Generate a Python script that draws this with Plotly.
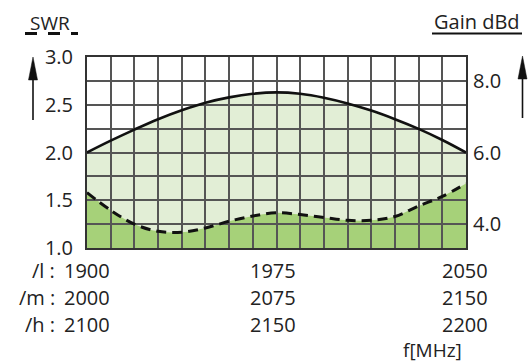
import plotly.graph_objects as go

# Frequency grid for the /l band (MHz); the /m and /h bands share the same positions
freq_l = [1900, 1909.375, 1918.75, 1928.125, 1937.5, 1946.875, 1956.25, 1965.625,
          1975, 1984.375, 1993.75, 2003.125, 2012.5, 2021.875, 2031.25, 2040.625, 2050]

# Antenna gain (dBd) across the band
gain_dbd = [6.0, 6.33, 6.64, 6.93, 7.18, 7.39, 7.54, 7.64, 7.68,
            7.64, 7.53, 7.37, 7.17, 6.93, 6.66, 6.35, 6.0]

# Standing wave ratio across the band
swr = [1.58, 1.395, 1.25, 1.175, 1.165, 1.21, 1.28, 1.335, 1.37,
       1.35, 1.32, 1.29, 1.29, 1.33, 1.44, 1.54, 1.675]

# Axis ticks
swr_ticks = [1.0, 1.25, 1.5, 1.75, 2.0, 2.25, 2.5, 2.75, 3.0]
swr_ticktext = ["1.0", "", "1.5", "", "2.0", "", "2.5", "", "3.0"]
gain_ticks = [4.0, 6.0, 8.0]
gain_ticktext = ["4.0", "6.0", "8.0"]

# Frequency labels for the three band variants
band_names = ["/l :", "/m :", "/h :"]
band_label_pos = [1900, 1975, 2050]
band_labels = [["1900", "1975", "2050"],
               ["2000", "2075", "2150"],
               ["2100", "2150", "2200"]]

SWR_RANGE = [1.0, 3.0]
GAIN_RANGE = [10 / 3, 26 / 3]
X_RANGE = [1900, 2050]

W, H = 528, 363
ML, MR, MT, MB = 87, 62, 57, 115
PW, PH = W - ML - MR, H - MT - MB


def px(x):
    return (x - ML) / PW


def py(y):
    return (H - MB - y) / PH


FONT = "Open Sans"
TXT = "#222222"
LIGHT = "#e2eed6"
DARK = "#a6d179"
GRID = "#555555"

fig = go.Figure()

# Filled areas (lower layer)
fig.add_trace(go.Scatter(x=freq_l, y=gain_dbd, xaxis="x", yaxis="y",
                         mode="lines", line=dict(width=0, shape="spline"),
                         fill="tozeroy", fillcolor=LIGHT, hoverinfo="skip",
                         showlegend=False))
fig.add_trace(go.Scatter(x=freq_l, y=swr, xaxis="x", yaxis="y2",
                         mode="lines", line=dict(width=0, shape="spline"),
                         fill="tozeroy", fillcolor=DARK, hoverinfo="skip",
                         showlegend=False))

# Curves drawn on the gridded layer above the fills
fig.add_trace(go.Scatter(x=freq_l, y=gain_dbd, xaxis="x2", yaxis="y4",
                         mode="lines", line=dict(color="#111111", width=2.6, shape="spline"),
                         name="Gain dBd", showlegend=False))
fig.add_trace(go.Scatter(x=freq_l, y=swr, xaxis="x2", yaxis="y3",
                         mode="lines", line=dict(color="#111111", width=3, shape="spline",
                                                 dash="10px,6px"),
                         name="SWR", showlegend=False))

hidden = dict(visible=False, showgrid=False, zeroline=False)

annotations = []
for r, name in enumerate(band_names):
    yrow = py([270, 297, 324][r])
    annotations.append(dict(text=name, xref="paper", yref="paper", x=px(56), y=yrow,
                            xanchor="right", yanchor="middle", showarrow=False,
                            borderpad=0,
                            font=dict(family=FONT, size=20, color=TXT)))
    for j, xv in enumerate(band_label_pos):
        annotations.append(dict(text=band_labels[r][j], xref="x2", yref="paper",
                                x=xv, y=yrow, xanchor="center", yanchor="middle",
                                xshift=[0, -4, -1][j], showarrow=False, borderpad=0,
                                font=dict(family=FONT, size=20, color=TXT)))

annotations += [
    dict(text="f[MHz]", xref="paper", yref="paper", x=px(463), y=py(350),
         xanchor="right", yanchor="middle", showarrow=False, borderpad=0,
         font=dict(family=FONT, size=19, color=TXT)),
    dict(text="SWR", xref="paper", yref="paper", x=px(50), y=py(23),
         xanchor="center", yanchor="middle", showarrow=False,
         font=dict(family=FONT, size=19, color=TXT)),
    dict(text="Gain dBd", xref="paper", yref="paper", x=px(477), y=py(22),
         xanchor="center", yanchor="middle", showarrow=False,
         font=dict(family=FONT, size=20, color=TXT)),
]

shapes = [
    # dashed underline under SWR
    dict(type="line", xref="paper", yref="paper", x0=px(25), x1=px(78),
         y0=py(33.5), y1=py(33.5), line=dict(color="#111111", width=3, dash="12px,11px")),
    # solid underline under Gain dBd
    dict(type="line", xref="paper", yref="paper", x0=px(432), x1=px(522),
         y0=py(33.5), y1=py(33.5), line=dict(color="#111111", width=2)),
    # left arrow
    dict(type="line", xref="paper", yref="paper", x0=px(33), x1=px(33),
         y0=py(120), y1=py(75), line=dict(color="#111111", width=1.6)),
    dict(type="path", xref="paper", yref="paper",
         path=f"M {px(28.5)} {py(80)} L {px(33)} {py(57)} L {px(37.5)} {py(80)} Z",
         fillcolor="#111111", line=dict(color="#111111", width=0.5)),
    # right arrow
    dict(type="line", xref="paper", yref="paper", x0=px(522.5), x1=px(522.5),
         y0=py(118), y1=py(75), line=dict(color="#111111", width=1.6)),
    dict(type="path", xref="paper", yref="paper",
         path=f"M {px(518)} {py(79)} L {px(522.5)} {py(56)} L {px(527)} {py(79)} Z",
         fillcolor="#111111", line=dict(color="#111111", width=0.5)),
]

fig.update_layout(
    width=W, height=H,
    margin=dict(l=ML, r=MR, t=MT, b=MB, pad=0),
    paper_bgcolor="white",
    plot_bgcolor="rgba(0,0,0,0)",
    font=dict(family=FONT, size=21, color=TXT),
    showlegend=False,
    xaxis=dict(range=X_RANGE, anchor="y", **hidden),
    yaxis=dict(range=GAIN_RANGE, anchor="x", **hidden),
    yaxis2=dict(range=SWR_RANGE, anchor="x", overlaying="y", **hidden),
    xaxis2=dict(range=X_RANGE, anchor="y3", tickvals=freq_l, showticklabels=False,
                ticks="", showgrid=True, gridcolor=GRID, gridwidth=1.5, zeroline=False,
                showline=True, mirror=True, linecolor="#333333", linewidth=2),
    yaxis3=dict(range=SWR_RANGE, anchor="x2", side="left", tickvals=swr_ticks,
                ticktext=swr_ticktext, ticks="", ticklabelstandoff=8,
                showgrid=True, gridcolor=GRID, gridwidth=1.5, zeroline=False,
                showline=True, mirror=True, linecolor="#333333", linewidth=2,
                tickfont=dict(family=FONT, size=20, color=TXT)),
    yaxis4=dict(range=GAIN_RANGE, anchor="x2", overlaying="y3", side="right",
                tickvals=gain_ticks, ticktext=gain_ticktext, ticks="",
                ticklabelstandoff=6, showgrid=False, zeroline=False,
                tickfont=dict(family=FONT, size=20, color=TXT)),
    annotations=annotations,
    shapes=shapes,
)

fig.write_html("out.html")
